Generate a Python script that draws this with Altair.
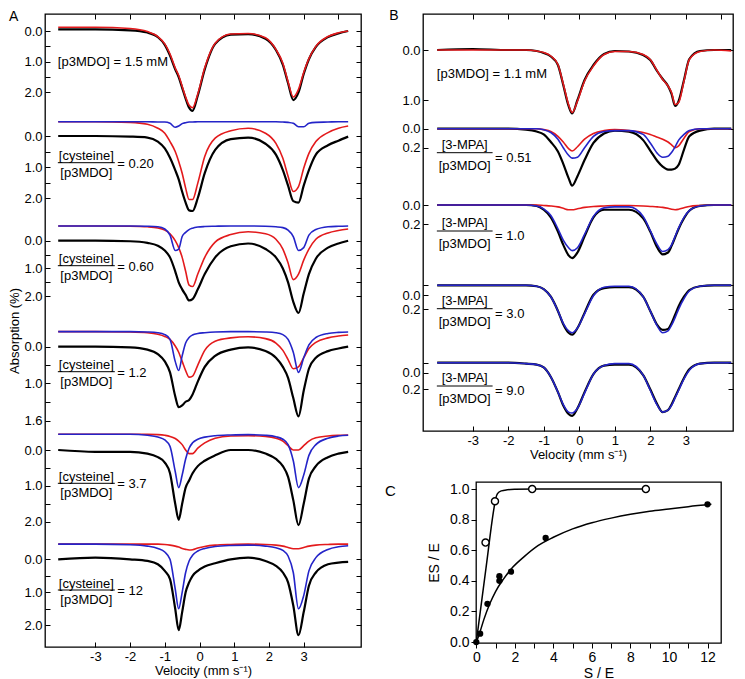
import altair as alt
import pandas as pd

FONT = "Liberation Sans"
RED = "#e31a1c"
BLUE = "#2424c8"

# ================= Panel A : p3MDO + cysteine =================
VA = [-4.07, -3.0, -2.0, -1.5, -1.2, -1.0, -0.85, -0.7, -0.6, -0.5, -0.4, -0.3, -0.2, -0.05,
      0.15, 0.45, 0.9, 1.4, 1.9, 2.2, 2.4, 2.55, 2.7, 2.85, 3.0, 3.15, 3.35, 3.7, 4.0, 4.28]

A_BLACK = {
    1: [-0.05, -0.05, -0.02, 0.05, 0.2, 0.45, 0.8, 1.25, 1.5, 1.85, 2.2, 2.5, 2.6, 2.1, 1.25,
        0.42, 0.12, 0.1, 0.25, 0.62, 1.1, 1.7, 2.25, 2.0, 1.4, 0.92, 0.52, 0.2, 0.08, 0.0],
    2: [0.0, 0.0, 0.02, 0.05, 0.18, 0.4, 0.7, 1.1, 1.4, 1.8, 2.15, 2.4, 2.42, 2.0, 1.2,
        0.45, 0.1, 0.05, 0.25, 0.6, 1.1, 1.6, 2.1, 2.15, 1.6, 1.1, 0.6, 0.3, 0.15, 0.02],
    3: [0.0, 0.0, 0.02, 0.08, 0.18, 0.35, 0.6, 1.1, 1.5, 1.75, 1.95, 2.15, 2.1, 1.75, 1.2,
        0.6, 0.2, 0.1, 0.3, 0.6, 1.0, 1.5, 2.2, 2.6, 1.9, 1.2, 0.65, 0.25, 0.1, 0.0],
    4: [0.0, 0.0, 0.02, 0.08, 0.2, 0.4, 0.7, 1.35, 1.65, 1.6, 1.5, 1.45, 1.3, 0.95, 0.55,
        0.25, 0.08, 0.02, 0.12, 0.3, 0.55, 0.85, 1.4, 1.9, 1.2, 0.6, 0.3, 0.12, 0.05, 0.0],
    5: [0.0, 0.05, 0.05, 0.1, 0.2, 0.35, 0.65, 1.5, 1.95, 1.5, 1.05, 0.85, 0.65, 0.45, 0.3,
        0.15, 0.0, 0.0, 0.1, 0.25, 0.45, 0.75, 1.4, 2.1, 1.5, 0.8, 0.45, 0.2, 0.1, 0.05],
    6: [0.0, -0.05, 0.0, 0.05, 0.15, 0.35, 0.6, 1.5, 2.15, 1.6, 1.0, 0.7, 0.5, 0.35, 0.22,
        0.12, 0.0, -0.05, 0.05, 0.2, 0.4, 0.7, 1.4, 2.3, 1.6, 0.8, 0.4, 0.15, 0.1, 0.08],
}
A_RED = {
    1: [-0.12, -0.12, -0.08, 0.02, 0.18, 0.42, 0.75, 1.2, 1.45, 1.8, 2.15, 2.42, 2.5, 2.05, 1.2,
        0.4, 0.1, 0.08, 0.22, 0.6, 1.05, 1.65, 2.15, 1.9, 1.35, 0.9, 0.5, 0.18, 0.06, 0.0],
    2: [-0.46, -0.46, -0.44, -0.38, -0.25, -0.09, 0.18, 0.5, 0.82, 1.2, 1.68, 2.05, 2.05, 1.52, 0.66,
        0.07, -0.17, -0.25, -0.09, 0.24, 0.72, 1.3, 1.79, 1.63, 1.04, 0.56, 0.18, -0.11, -0.25, -0.32],
    3: [-0.53, -0.53, -0.52, -0.5, -0.46, -0.38, -0.25, 0.0, 0.25, 0.6, 1.1, 1.6, 1.65, 1.2, 0.6,
        0.05, -0.22, -0.32, -0.25, -0.05, 0.3, 0.8, 1.4, 1.2, 0.7, 0.3, -0.05, -0.28, -0.37, -0.42],
    4: [-0.41, -0.41, -0.4, -0.38, -0.34, -0.28, -0.2, -0.02, 0.15, 0.4, 0.65, 0.83, 0.8, 0.5, 0.1,
        -0.15, -0.24, -0.27, -0.22, -0.1, 0.1, 0.35, 0.6, 0.55, 0.3, 0.05, -0.12, -0.24, -0.29, -0.32],
    5: [-0.44, -0.44, -0.44, -0.44, -0.43, -0.41, -0.38, -0.32, -0.25, -0.15, 0.0, 0.1, 0.1, -0.05, -0.2,
        -0.33, -0.39, -0.4, -0.38, -0.33, -0.25, -0.12, 0.0, 0.0, -0.12, -0.25, -0.34, -0.39, -0.41, -0.42],
    6: [-0.46, -0.46, -0.46, -0.46, -0.46, -0.45, -0.43, -0.4, -0.37, -0.33, -0.3, -0.28, -0.29, -0.34, -0.39,
        -0.43, -0.45, -0.46, -0.45, -0.43, -0.4, -0.36, -0.32, -0.32, -0.36, -0.4, -0.43, -0.45, -0.46, -0.46],
}
A_BLUE = {
    2: [-0.46, -0.46, -0.46, -0.46, -0.45, -0.45, -0.41, -0.28, -0.32, -0.4, -0.43, -0.45, -0.45, -0.46, -0.46,
        -0.46, -0.46, -0.46, -0.46, -0.46, -0.45, -0.44, -0.41, -0.3, -0.3, -0.41, -0.44, -0.45, -0.46, -0.46],
    3: [-0.53, -0.53, -0.53, -0.52, -0.5, -0.42, -0.2, 0.35, 0.3, -0.15, -0.3, -0.4, -0.45, -0.49, -0.51,
        -0.52, -0.53, -0.53, -0.52, -0.5, -0.47, -0.38, -0.15, 0.35, 0.25, -0.2, -0.4, -0.5, -0.52, -0.53],
    4: [-0.41, -0.41, -0.41, -0.4, -0.38, -0.33, -0.2, 0.4, 0.65, 0.25, -0.1, -0.25, -0.32, -0.36, -0.38,
        -0.4, -0.41, -0.41, -0.4, -0.38, -0.33, -0.2, 0.15, 0.7, 0.3, -0.05, -0.25, -0.36, -0.39, -0.4],
    5: [-0.44, -0.44, -0.44, -0.41, -0.36, -0.28, -0.1, 0.6, 1.05, 0.7, 0.25, -0.05, -0.2, -0.3, -0.36,
        -0.4, -0.42, -0.43, -0.41, -0.37, -0.3, -0.15, 0.3, 1.05, 0.7, 0.15, -0.15, -0.33, -0.39, -0.41],
    6: [-0.46, -0.46, -0.44, -0.4, -0.33, -0.22, 0.0, 0.9, 1.5, 1.0, 0.4, 0.05, -0.12, -0.25, -0.33,
        -0.39, -0.42, -0.43, -0.4, -0.35, -0.27, -0.1, 0.4, 1.5, 1.1, 0.35, -0.05, -0.3, -0.38, -0.41],
}
A_RATIO = {2: "= 0.20", 3: "= 0.60", 4: "= 1.2", 5: "= 3.7", 6: "= 12"}

# ================= Panel B : p3MDO + 3-MPA =================
VB = [-4.0, -3.0, -2.0, -1.5, -1.2, -1.0, -0.8, -0.6, -0.45, -0.3, -0.2, -0.05, 0.15, 0.4, 0.7,
      1.0, 1.4, 1.8, 2.0, 2.2, 2.35, 2.5, 2.6, 2.7, 2.8, 2.95, 3.1, 3.4, 3.8, 4.28]

B_BLACK = {
    1: [0.0, -0.02, 0.0, 0.0, 0.02, 0.06, 0.13, 0.3, 0.7, 1.12, 1.27, 1.0, 0.6, 0.3, 0.08,
        0.02, 0.03, 0.1, 0.2, 0.43, 0.58, 0.72, 0.88, 1.12, 1.02, 0.6, 0.18, 0.02, 0.0, 0.0],
    2: [0.0, 0.0, 0.0, 0.01, 0.03, 0.06, 0.14, 0.24, 0.37, 0.52, 0.6, 0.5, 0.33, 0.15, 0.05,
        0.02, 0.03, 0.12, 0.23, 0.34, 0.4, 0.43, 0.43, 0.42, 0.38, 0.22, 0.08, 0.02, 0.0, 0.0],
    3: [0.0, 0.0, 0.0, 0.0, 0.01, 0.05, 0.13, 0.28, 0.42, 0.53, 0.56, 0.5, 0.33, 0.13, 0.05,
        0.05, 0.05, 0.14, 0.28, 0.45, 0.52, 0.5, 0.43, 0.34, 0.25, 0.14, 0.06, 0.01, 0.0, 0.0],
    4: [0.0, 0.0, 0.0, 0.0, 0.01, 0.04, 0.12, 0.27, 0.41, 0.5, 0.52, 0.45, 0.29, 0.1, 0.03,
        0.02, 0.02, 0.12, 0.27, 0.42, 0.47, 0.46, 0.4, 0.31, 0.22, 0.12, 0.05, 0.01, 0.0, 0.0],
    5: [0.0, 0.0, 0.0, 0.01, 0.02, 0.05, 0.15, 0.31, 0.45, 0.54, 0.56, 0.48, 0.31, 0.12, 0.03,
        0.02, 0.02, 0.13, 0.28, 0.44, 0.52, 0.5, 0.44, 0.36, 0.28, 0.16, 0.07, 0.01, 0.0, 0.0],
}
B_RED = {
    1: [0.0, 0.0, 0.0, 0.0, 0.02, 0.05, 0.12, 0.29, 0.68, 1.09, 1.25, 1.02, 0.62, 0.32, 0.09,
        0.03, 0.03, 0.09, 0.19, 0.42, 0.59, 0.72, 0.85, 1.09, 1.05, 0.62, 0.19, 0.03, 0.0, 0.02],
    2: [0.0, 0.0, 0.0, 0.0, 0.0, 0.01, 0.03, 0.08, 0.14, 0.21, 0.235, 0.19, 0.11, 0.05, 0.02,
        0.01, 0.02, 0.04, 0.06, 0.09, 0.11, 0.14, 0.17, 0.2, 0.18, 0.1, 0.03, 0.0, 0.0, 0.0],
    3: [0.0, 0.0, 0.0, 0.0, 0.0, 0.005, 0.01, 0.02, 0.035, 0.05, 0.05, 0.04, 0.025, 0.015, 0.01,
        0.005, 0.005, 0.01, 0.015, 0.02, 0.025, 0.035, 0.045, 0.05, 0.045, 0.03, 0.015, 0.005, 0.0, 0.0],
}
B_BLUE = {
    2: [0.0, 0.0, 0.0, 0.0, 0.0, 0.01, 0.04, 0.11, 0.2, 0.28, 0.31, 0.3, 0.2, 0.08, 0.03,
        0.02, 0.02, 0.06, 0.15, 0.26, 0.3, 0.29, 0.25, 0.19, 0.12, 0.06, 0.02, 0.0, 0.0, 0.0],
    3: [0.0, 0.0, 0.0, 0.0, 0.01, 0.04, 0.11, 0.25, 0.37, 0.45, 0.48, 0.45, 0.31, 0.12, 0.03,
        0.02, 0.02, 0.12, 0.27, 0.42, 0.49, 0.47, 0.42, 0.33, 0.24, 0.13, 0.06, 0.01, 0.0, 0.0],
    4: [0.0, 0.0, 0.0, 0.0, 0.01, 0.04, 0.12, 0.27, 0.4, 0.48, 0.5, 0.45, 0.3, 0.11, 0.02,
        0.01, 0.01, 0.12, 0.27, 0.43, 0.5, 0.48, 0.42, 0.34, 0.25, 0.14, 0.06, 0.01, 0.0, 0.0],
    5: [0.0, 0.0, 0.0, 0.01, 0.02, 0.05, 0.15, 0.31, 0.44, 0.52, 0.53, 0.48, 0.32, 0.12, 0.03,
        0.01, 0.01, 0.13, 0.29, 0.45, 0.52, 0.5, 0.45, 0.37, 0.29, 0.17, 0.08, 0.01, 0.0, 0.0],
}
B_RATIO = {2: "= 0.51", 3: "= 1.0", 4: "= 3.0", 5: "= 9.0"}

# ================= Panel C : titration =================
C_S_OPEN = [0.48, 0.97, 2.9, 8.8]
C_R_OPEN = [0.65, 0.92, 1.0, 1.0]
C_S_FILL = [0.0, 0.2, 0.58, 1.2, 1.2, 1.8, 3.6, 12.0]
C_R_FILL = [0.0, 0.055, 0.25, 0.43, 0.40, 0.46, 0.68, 0.90]
C_FIT_OPEN_S = [0.0, 0.5, 0.9, 1.0, 1.1, 1.3, 1.6, 2.0, 3.0, 8.8]
C_FIT_OPEN_R = [0.0, 0.48, 0.86, 0.935, 0.97, 0.988, 0.995, 0.998, 1.0, 1.0]
C_FIT_FILL_S = [0.0, 0.15, 0.4, 0.7, 1.0, 1.4, 1.9, 2.5, 3.2, 4.0, 5.0, 6.0, 7.0, 8.0, 9.0, 10.0, 11.0, 12.2]
C_FIT_FILL_R = [0.0, 0.05, 0.15, 0.25, 0.33, 0.41, 0.49, 0.56, 0.63, 0.685, 0.74, 0.78, 0.81, 0.835,
                0.855, 0.87, 0.885, 0.9]

# ---------------- layout of stacked spectra (plot units from panel top) ----------------
A_ZERO = {1: 17.0, 2: 122.0, 3: 226.7, 4: 332.7, 5: 436.0, 6: 545.3}
A_GAIN = {1: 30.7, 2: 31.0, 3: 27.8, 4: 36.7, 5: 35.8, 6: 33.0}
A_TICKS = [(17, "0.0"), (32.3, ""), (47.7, "1.0"), (63, ""), (78.3, "2.0"),
           (122, "0.0"), (137.7, ""), (153.3, "1.0"), (168.8, ""), (184.3, "2.0"),
           (226.7, "0.0"), (240.5, ""), (254.3, "1.0"), (268.3, ""), (282.3, "2.0"),
           (332.7, "0.0"), (351, ""), (369.3, "1.0"), (388, ""), (406.7, "1.6"),
           (436, "0.0"), (453.9, ""), (471.7, "1.0"), (489.7, ""), (507.7, "2.0"),
           (545.3, "0.0"), (561.8, ""), (578.3, "1.0"), (594.7, ""), (611, "2.0")]
A_BAR = {2: 148.7, 3: 251.7, 4: 357.7, 5: 469.3, 6: 576.0}

B_ZERO = {1: 36.0, 2: 114.7, 3: 191.0, 4: 271.3, 5: 348.7}
B_GAIN = {1: 50.0, 2: 95.0, 3: 95.0, 4: 95.0, 5: 95.0}
B_TICKS = [(36, "0.0"), (86, "1.0"), (114.7, "0.0"), (133.7, "0.2"), (191, "0.0"), (210.3, "0.2"),
           (271.3, ""), (281, "0.0"), (295.3, "0.2"), (348.7, ""), (358.7, "0.0"), (375, "0.2")]
B_BAR = {2: 138.7, 3: 217.0, 4: 294.7, 5: 372.0}

HA, HB, HC = 633, 417, 161
VEL = "Velocity (mm s\u207b\u00b9)"


def to_long(V, series, zero, gain):
    rows = []
    for key, vals in series.items():
        assert len(vals) == len(V), key
        for v, a in zip(V, vals):
            rows.append({"v": v, "a": a, "id": str(key), "py": zero[key] + a * gain[key]})
    return pd.DataFrame(rows)


def label_expr(ticks):
    expr = "''"
    for pos, lab in reversed(ticks):
        if lab:
            expr = f"abs(datum.value - {pos}) < 0.05 ? '{lab}' : ({expr})"
    return expr


def spectra_panel(V, black, red, blue, zero, gain, ticks, xdom, ydom, width, height, ytitle,
                  header, bars, ratios, den_text, num_text, tx0, tx1, offs):
    xs = alt.Scale(domain=xdom, nice=False, zero=False)
    ys = alt.Scale(domain=ydom, reverse=True, nice=False, zero=False)
    tick_pos = [p for p, _ in ticks]

    x_bottom = alt.X("v:Q", scale=xs, axis=alt.Axis(
        orient="bottom", values=[-3, -2, -1, 0, 1, 2, 3], labelExpr="'' + datum.value",
        offset=-5, tickSize=5, labelPadding=3, title=VEL, titlePadding=1,
        domain=False, grid=False, labelFlush=False))
    x_top = alt.X("v:Q", scale=xs, axis=alt.Axis(
        orient="top", values=[-3, -2, -1, 0, 1, 2, 3, 4], labels=False, offset=-5, tickSize=5,
        title="", domain=False, grid=False))
    y_left = alt.Y("py:Q", scale=ys, axis=alt.Axis(
        orient="left", values=tick_pos, labelExpr=label_expr(ticks), offset=-5, tickSize=5,
        labelPadding=3, domain=False, grid=False, labelOverlap=False, labelFlush=False,
        title=ytitle, titlePadding=2))
    y_right = alt.Y("py:Q", scale=ys, axis=alt.Axis(
        orient="right", values=tick_pos, labels=False, offset=-5, tickSize=5,
        domain=False, grid=False, title=""))
    xn = alt.X("v:Q", scale=xs, axis=None)
    yn = alt.Y("py:Q", scale=ys, axis=None)

    lb = alt.Chart(to_long(V, black, zero, gain)).mark_line(
        color="black", strokeWidth=2.2, interpolate="monotone").encode(
        x=x_bottom, y=y_left, detail="id:N")
    lr = alt.Chart(to_long(V, red, zero, gain)).mark_line(
        color=RED, strokeWidth=1.6, interpolate="monotone").encode(
        x=x_top, y=y_right, detail="id:N")
    lblue = alt.Chart(to_long(V, blue, zero, gain)).mark_line(
        color=BLUE, strokeWidth=1.6, interpolate="monotone").encode(
        x=xn, y=yn, detail="id:N")

    left_rows = [{"v": tx0, "py": header[1], "t": header[0]}]
    cen_rows, bar_rows = [], []
    for k, bar in bars.items():
        left_rows.append({"v": tx1 + 0.07, "py": bar + offs[2], "t": ratios[k]})
        cen_rows.append({"v": (tx0 + tx1) / 2, "py": bar + offs[0], "t": num_text})
        cen_rows.append({"v": (tx0 + tx1) / 2, "py": bar + offs[1], "t": den_text})
        bar_rows.append({"v": tx0, "v2": tx1, "py": bar})
    t_left = alt.Chart(pd.DataFrame(left_rows)).mark_text(
        align="left", baseline="middle", font=FONT, fontSize=13, color="black").encode(
        x=xn, y=yn, text="t:N")
    t_cen = alt.Chart(pd.DataFrame(cen_rows)).mark_text(
        align="center", baseline="middle", font=FONT, fontSize=13, color="black").encode(
        x=xn, y=yn, text="t:N")
    rules = alt.Chart(pd.DataFrame(bar_rows)).mark_rule(color="black", strokeWidth=1).encode(
        x=xn, x2="v2:Q", y=yn)

    return alt.layer(lb, lr, lblue, t_left, t_cen, rules).resolve_axis(
        x="independent", y="independent").properties(width=width, height=height)


panel_a = spectra_panel(
    VA, A_BLACK, A_RED, A_BLUE, A_ZERO, A_GAIN, A_TICKS, [-4.45, 4.65], [0, 633], 316, HA,
    "Absorption (%)", ("[p3MDO] = 1.5 mM", 47.7), A_BAR, A_RATIO, "[p3MDO]", "[cysteine]",
    -4.08, -2.44, (-6.5, 10.0, 1.0)).properties(
    title=alt.TitleParams("A", anchor="start", fontSize=14, font=FONT, fontWeight="normal",
                          offset=0, dy=10))

panel_b = spectra_panel(
    VB, B_BLACK, B_RED, B_BLUE, B_ZERO, B_GAIN, B_TICKS, [-4.40, 4.33], [0, 417], 310, HB,
    "", ("[p3MDO] = 1.1 mM", 59.7), B_BAR, B_RATIO, "[p3MDO]", "[3-MPA]", -4.01, -2.44,
    (-8.0, 13.0, 5.0))

# ---------------- panel C ----------------
xc = alt.Scale(domain=[-0.015, 12.7], nice=False, zero=False)
yc = alt.Scale(domain=[-0.006, 1.046], nice=False, zero=False)
xC = alt.X("s:Q", scale=xc, axis=alt.Axis(
    values=list(range(13)), labelExpr="datum.value % 2 == 0 ? '' + datum.value : ''",
    tickSize=5, labelPadding=2, title="S / E", titlePadding=2, domain=False, grid=False,
    labelFontSize=14, titleFontSize=14, labelFlush=False, labelOverlap=False))
yC = alt.Y("r:Q", scale=yc, axis=alt.Axis(
    values=[0, 0.2, 0.4, 0.6, 0.8, 1.0], format=".1f", tickSize=5, labelPadding=2,
    title="ES / E", titlePadding=8, domain=False, grid=False, labelFontSize=14,
    titleFontSize=14, labelFlush=False))

fit_open = alt.Chart(pd.DataFrame({"s": C_FIT_OPEN_S, "r": C_FIT_OPEN_R})).mark_line(
    color="black", strokeWidth=1.5, interpolate="monotone").encode(x=xC, y=yC)
fit_fill = alt.Chart(pd.DataFrame({"s": C_FIT_FILL_S, "r": C_FIT_FILL_R})).mark_line(
    color="black", strokeWidth=1.5, interpolate="monotone").encode(x=xC, y=yC)
pts_open = alt.Chart(pd.DataFrame({"s": C_S_OPEN, "r": C_R_OPEN})).mark_circle(
    fill="white", stroke="black", strokeWidth=1.4, size=50, opacity=1).encode(x=xC, y=yC)
pts_fill = alt.Chart(pd.DataFrame({"s": C_S_FILL, "r": C_R_FILL})).mark_circle(
    color="black", size=40, opacity=1).encode(x=xC, y=yC)
panel_c = alt.layer(fit_open, fit_fill, pts_open, pts_fill).properties(width=245, height=HC)

spacer = alt.Chart(pd.DataFrame({"t": ["C"]})).mark_text(
    align="left", baseline="middle", font=FONT, fontSize=15, color="black").encode(
    x=alt.value(-38), y=alt.value(9), text="t:N").properties(
    width=2, height=HC, view=alt.ViewBackground(stroke="transparent"))

right = alt.vconcat(
    panel_b, alt.hconcat(spacer, panel_c, spacing=0), spacing=19,
    title=alt.TitleParams("B", anchor="start", fontSize=14, font=FONT, fontWeight="normal",
                          offset=0, dy=10, dx=5))

chart = alt.hconcat(panel_a, right, spacing=21).properties(padding=0).configure_view(
    stroke="black", strokeWidth=1.3).configure_axis(
    labelFont=FONT, titleFont=FONT, labelFontSize=13, titleFontSize=13, labelColor="black",
    titleColor="black", tickColor="black", tickWidth=1, titleFontWeight="normal").configure_title(
    font=FONT, color="black")

chart.save("out.html", embed_options={"renderer": "svg", "actions": False})
